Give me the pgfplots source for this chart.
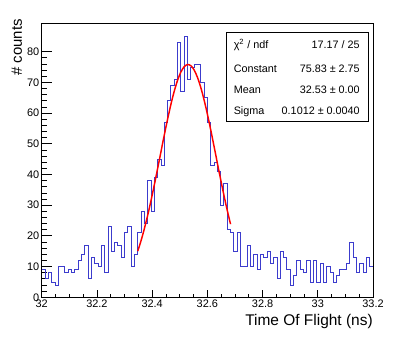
\documentclass[border=0pt]{standalone}
\usepackage{fontspec}
\setmainfont{Liberation Sans}
\usepackage{pgfplots}
\pgfplotsset{compat=1.18}
\definecolor{histblue}{RGB}{60,60,205}

\begin{document}
\begin{tikzpicture}[x=0.75pt,y=0.75pt]
  \useasboundingbox (-41.7,-45.7) rectangle (373.3,297.3);
  \begin{axis}[
      at={(0,0)}, anchor=south west,
      scale only axis, width=248.5pt, height=205.5pt,
      xmin=32, xmax=33.2, ymin=0, ymax=89.25,
      axis line style={line width=0.75pt},
      tick align=inside, tick pos=left,
      xtick={32,32.2,32.4,32.6,32.8,33,33.2},
      xticklabels={32,32.2,32.4,32.6,32.8,33,33.2},
      minor x tick num=3,
      ytick={0,10,20,30,40,50,60,70,80},
      yticklabels={0,10,20,30,40,50,60,70,80},
      minor y tick num=4,
      x tick style={/pgfplots/major tick length=5.6pt, /pgfplots/minor tick length=2.8pt},
      y tick style={/pgfplots/major tick length=7.5pt, /pgfplots/minor tick length=3.8pt},
      tick style={black, line width=0.6pt},
      ticklabel style={font=\fontsize{8.2}{9}\selectfont},
      xticklabel style={inner sep=0pt, yshift=-1.6pt},
      yticklabel style={inner sep=0pt, xshift=-1.6pt},
    ]
    % histogram, 100 bins of 0.012 ns
    \addplot[const plot mark left, histblue, line width=0.65pt] coordinates {
      (32.000,9) (32.012,6) (32.024,8) (32.036,5) (32.048,4) (32.060,10) (32.072,10) (32.084,8) (32.096,9) (32.108,8)
      (32.120,9) (32.132,12) (32.144,14) (32.156,17) (32.168,6) (32.180,13) (32.192,11) (32.204,10) (32.216,17) (32.228,8)
      (32.240,23) (32.252,15) (32.264,18) (32.276,17) (32.288,13) (32.300,21) (32.312,23) (32.324,10) (32.336,14) (32.348,21)
      (32.360,28) (32.372,24) (32.384,38) (32.396,28) (32.408,39) (32.420,45) (32.432,43) (32.444,57) (32.456,64) (32.468,69)
      (32.480,71) (32.492,83) (32.504,67) (32.516,85) (32.528,71) (32.540,75) (32.552,76) (32.564,76) (32.576,70) (32.588,65)
      (32.600,57) (32.612,43) (32.624,44) (32.636,41) (32.648,30) (32.660,37) (32.672,22) (32.684,21) (32.696,15) (32.708,21)
      (32.720,10) (32.732,10) (32.744,17) (32.756,10) (32.768,14) (32.780,9) (32.792,14) (32.804,13) (32.816,15) (32.828,11)
      (32.840,13) (32.852,6) (32.864,15) (32.876,13) (32.888,9) (32.900,4) (32.912,7) (32.924,12) (32.936,9) (32.948,8)
      (32.960,12) (32.972,5) (32.984,12) (32.996,5) (33.008,11) (33.020,5) (33.032,10) (33.044,8) (33.056,5) (33.068,7)
      (33.080,9) (33.092,9) (33.104,11) (33.116,18) (33.128,13) (33.140,8) (33.152,11) (33.164,8) (33.176,13) (33.188,10)
      (33.200,10)
    };
    % gaussian fit, sampled
    \addplot[red, line width=1.1pt, smooth] coordinates {
      (32.348,15.05) (32.360,18.50) (32.372,22.41) (32.384,26.78) (32.396,31.56) (32.408,36.67)
      (32.420,42.00) (32.432,47.45) (32.444,52.85) (32.456,58.04) (32.468,62.85) (32.480,67.11)
      (32.492,70.67) (32.504,73.37) (32.516,75.11) (32.528,75.81) (32.540,75.46) (32.552,74.06)
      (32.564,71.67) (32.576,68.39) (32.588,64.35) (32.600,59.70) (32.612,54.61) (32.624,49.26)
      (32.636,43.81) (32.648,38.43) (32.660,33.23) (32.672,28.33) (32.684,23.82)
    };
  \end{axis}
  % axis titles
  \node[anchor=base east, inner sep=0pt, font=\fontsize{11.6}{13}\selectfont] at (331.3,-28.5) {Time Of Flight (ns)};
  \node[rotate=90, anchor=base east, inner sep=0pt, font=\fontsize{11.2}{13}\selectfont] at (-19.7,278.3) {\# counts};
  % stats box
  \draw[line width=0.6pt, fill=white] (184.3,176.3) rectangle (326.3,265.3);
  \begin{scope}[every node/.style={inner sep=0pt, font=\fontsize{8.1}{9}\selectfont}]
    \node[anchor=base west] at (191.8,248.8) {χ\textsuperscript{2} / ndf};
    \node[anchor=base east] at (318.3,248.8) {17.17 / 25};
    \node[anchor=base west] at (191.8,224.8) {Constant};
    \node[anchor=base east] at (318.3,224.8) {75.83 ± 2.75};
    \node[anchor=base west] at (191.8,203.8) {Mean};
    \node[anchor=base east] at (318.3,203.8) {32.53 ± 0.00};
    \node[anchor=base west] at (191.8,182.8) {Sigma};
    \node[anchor=base east] at (318.3,182.8) {0.1012 ± 0.0040};
  \end{scope}
\end{tikzpicture}
\end{document}
